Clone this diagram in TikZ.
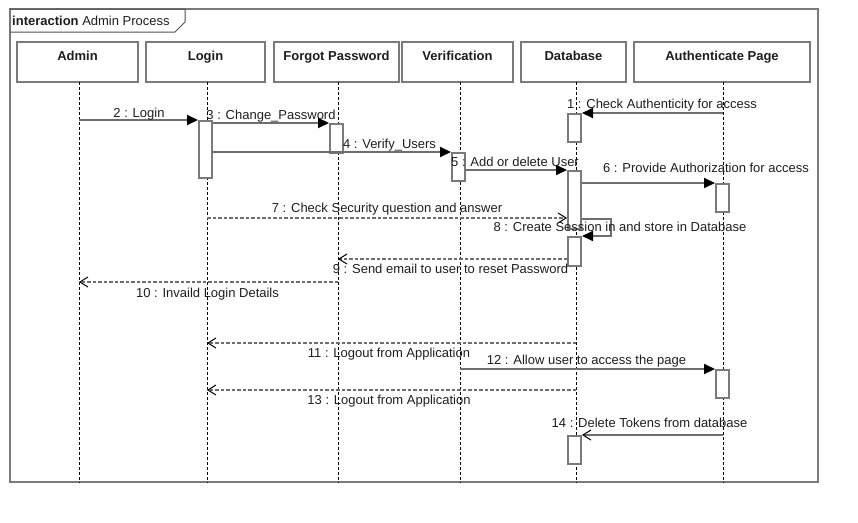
\documentclass[tikz,border=0pt]{standalone}
\usepackage{fontspec}
\setmainfont{Liberation Sans}
\usetikzlibrary{arrows.meta}
\definecolor{boxgray}{HTML}{7A7A7A}
\definecolor{msggray}{HTML}{6E6E6E}
\definecolor{tabgray}{HTML}{505050}
\definecolor{txt}{HTML}{1E1E1E}
\begin{document}
\begin{tikzpicture}[x=1pt,y=-1pt,
  font=\fontsize{13}{15.6}\selectfont, text=txt,
  framebox/.style={draw=boxgray, line width=2.2pt, inner sep=0pt},
  head/.style={draw=boxgray, line width=2pt, fill=white, inner sep=0pt,
    text height=18pt, text depth=22pt, anchor=north,
    font=\fontsize{13}{15.6}\selectfont\bfseries},
  act/.style={draw=boxgray, line width=2pt, fill=white, minimum width=13pt, inner sep=0pt},
  lifeline/.style={draw=black, line width=0.9pt, dash pattern=on 3pt off 2pt},
  sync/.style={draw=msggray, line width=1.9pt, -{Triangle[length=11pt,width=10pt,color=black]}},
  ret/.style={draw=msggray, line width=1.8pt, dash pattern=on 3.5pt off 2pt,
    -{Straight Barb[length=8pt,width=10pt,color=black,line width=1pt]}},
  asyncmsg/.style={draw=msggray, line width=1.9pt,
    -{Straight Barb[length=8pt,width=10pt,color=black,line width=1pt]}},
  msg/.style={anchor=base, inner sep=0pt},
]
\useasboundingbox (0,0) rectangle (858,522);

% frame and title tab
\node[framebox, minimum width=808pt, minimum height=473pt] (frame) at (414,245.5) {};
\draw[draw=tabgray, line width=1pt] (10,9) -- (185,9) -- (185,22) -- (175,32) -- (10,32);
\node[anchor=base west, inner sep=0pt] (title) at (12,25) {\textbf{interaction} Admin Process};

% lifeline heads
\node[head, minimum width=121pt] (hAdmin) at (77.5,41) {Admin};
\node[head, minimum width=119pt] (hLogin) at (205.5,41) {Login};
\node[head, minimum width=125pt] (hForgot) at (336.5,41) {Forgot Password};
\node[head, minimum width=111pt] (hVer) at (457.5,41) {Verification};
\node[head, minimum width=105pt] (hDb) at (573.5,41) {Database};
\node[head, minimum width=176pt] (hAuth) at (722,41) {Authenticate Page};

% lifelines
\coordinate (lAdmin) at (79,82);
\coordinate (lLogin) at (207,82);
\coordinate (lForgot) at (338,82);
\coordinate (lVer) at (460,82);
\coordinate (lDb) at (576,82);
\coordinate (lAuth) at (723,82);
\foreach \l in {lAdmin,lLogin,lForgot,lVer,lDb,lAuth}
  \draw[lifeline] (\l) -- (\l |- frame.south);

% activations
\node[act, minimum height=57pt] (aLogin) at (205.5,149.5) {};
\node[act, minimum height=29pt] (aForgot) at (336.5,138.5) {};
\node[act, minimum height=28pt] (aVer) at (458.5,167) {};
\node[act, minimum height=28pt] (aDb1) at (574.5,128) {};
\node[act, minimum height=58pt] (aDb2) at (574.5,200) {};
\node[act, minimum height=29pt] (aDb3) at (574.5,251.5) {};
\node[act, minimum height=28pt] (aAuth1) at (722.5,198) {};
\node[act, minimum height=28pt] (aAuth2) at (722.5,384) {};
\node[act, minimum height=28pt] (aDb4) at (574.5,450) {};

% message levels
\coordinate (m7) at (0,218);
\coordinate (m8) at (0,219);
\coordinate (m8r) at (611,219);
\coordinate (m9) at (0,259);
\coordinate (m10) at (0,282);
\coordinate (m11) at (0,343);
\coordinate (m13) at (0,390);

% messages
\draw[sync] (lAuth |- aDb1.north) -- (aDb1.north east);
\draw[sync] (lAdmin |- aLogin.north) -- (aLogin.north west);
\draw[sync] (aLogin.east |- aForgot.north) -- (aForgot.north west);
\draw[sync] (aLogin.east |- aVer.north) -- (aVer.north west);
\draw[sync] (aVer.east |- aDb2.north) -- (aDb2.north west);
\draw[sync] (aDb2.east |- aAuth1.north) -- (aAuth1.north west);
\draw[ret] (lLogin |- m7) -- (aDb2.west |- m7);
\draw[sync] (aDb2.east |- m8) -- (m8r) -- (m8r |- aDb3.north) -- (aDb3.north east);
\draw[ret] (aDb3.west |- m9) -- (lForgot |- m9);
\draw[ret] (lForgot |- m10) -- (lAdmin |- m10);
\draw[ret] (lDb |- m11) -- (lLogin |- m11);
\draw[sync] (lVer |- aAuth2.north) -- (aAuth2.north west);
\draw[ret] (lDb |- m13) -- (lLogin |- m13);
\draw[asyncmsg] (lAuth |- aDb4.north) -- (aDb4.north east);

% labels
\node[msg] (t1) at (662,108.5) {1 : Check Authenticity for access};
\node[msg] (t2) at (139,117) {2 : Login};
\node[msg] (t3) at (271,119) {3 : Change\_Password};
\node[msg] (t4) at (389.5,148) {4 : Verify\_Users};
\node[msg] (t5) at (515,166) {5 : Add or delete User};
\node[msg] (t6) at (706,172) {6 : Provide Authorization for access};
\node[msg] (t7) at (387,212) {7 : Check Security question and answer};
\node[msg] (t8) at (620,231) {8 : Create Session in and store in Database};
\node[msg] (t9) at (450.5,273) {9 : Send email to user to reset Password};
\node[msg] (t10) at (207.5,297) {10 : Invaild Login Details};
\node[msg] (t11) at (389,357) {11 : Logout from Application};
\node[msg] (t12) at (586.5,364) {12 : Allow user to access the page};
\node[msg] (t13) at (389,404) {13 : Logout from Application};
\node[msg] (t14) at (649.5,427) {14 : Delete Tokens from database};
\end{tikzpicture}
\end{document}
